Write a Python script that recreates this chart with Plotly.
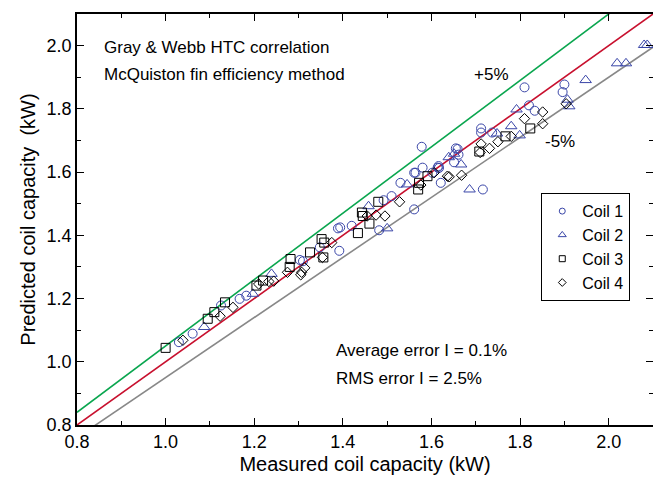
import plotly.graph_objects as go

# Coil data (measured, predicted) in kW
coil1_x = [1.030, 1.061, 1.125, 1.167, 1.182, 1.303, 1.310, 1.348, 1.389, 1.394, 1.420, 1.392, 1.482, 1.492,
           1.510, 1.530, 1.561, 1.561, 1.564, 1.578, 1.580, 1.602, 1.614, 1.616, 1.617, 1.621, 1.651, 1.655,
           1.659, 1.661, 1.712, 1.712, 1.716, 1.737, 1.810, 1.820, 1.833, 1.896, 1.900]
coil1_y = [1.062, 1.089, 1.178, 1.199, 1.209, 1.322, 1.318, 1.362, 1.422, 1.425, 1.430, 1.351, 1.416, 1.511,
           1.524, 1.566, 1.598, 1.482, 1.598, 1.680, 1.614, 1.598, 1.614, 1.619, 1.613, 1.566, 1.631, 1.675,
           1.673, 1.655, 1.738, 1.725, 1.545, 1.725, 1.868, 1.811, 1.794, 1.853, 1.877]

coil2_x = [1.087, 1.197, 1.239, 1.458, 1.500, 1.545, 1.639, 1.651, 1.667, 1.686, 1.748, 1.780, 1.792,
           1.799, 1.907, 1.911, 1.948, 2.019, 2.039, 2.080, 2.087]
coil2_y = [1.110, 1.215, 1.278, 1.492, 1.422, 1.561, 1.647, 1.658, 1.624, 1.545, 1.722, 1.745, 1.798,
           1.716, 1.829, 1.808, 1.891, 1.944, 1.944, 2.002, 2.002]

coil3_x = [1.000, 1.095, 1.110, 1.134, 1.205, 1.220, 1.280, 1.282, 1.326, 1.352, 1.356, 1.358, 1.434,
           1.443, 1.445, 1.460, 1.480, 1.570, 1.572, 1.591, 1.708, 1.767, 1.823]
coil3_y = [1.044, 1.136, 1.157, 1.188, 1.241, 1.257, 1.300, 1.325, 1.346, 1.388, 1.330, 1.377, 1.407,
           1.472, 1.461, 1.437, 1.506, 1.545, 1.566, 1.587, 1.665, 1.713, 1.738]

coil4_x = [1.039, 1.123, 1.152, 1.210, 1.233, 1.244, 1.275, 1.305, 1.307, 1.314, 1.354, 1.375, 1.455,
           1.475, 1.495, 1.528, 1.576, 1.606, 1.636, 1.640, 1.668, 1.710, 1.712, 1.731, 1.750, 1.780,
           1.810, 1.851, 1.851, 1.904]
coil4_y = [1.068, 1.144, 1.172, 1.246, 1.254, 1.255, 1.283, 1.275, 1.283, 1.297, 1.330, 1.377, 1.461,
           1.464, 1.461, 1.506, 1.559, 1.598, 1.587, 1.585, 1.590, 1.662, 1.689, 1.675, 1.696, 1.713,
           1.769, 1.790, 1.753, 1.816]

series_names = ["Coil 1", "Coil 2", "Coil 3", "Coil 4"]

line_x = [0.8, 2.1]
band_factors = [1.05, 1.0, 0.95]
band_colors = ["#0aa64f", "#c8102e", "#888888"]

tick_vals = [0.8, 1.0, 1.2, 1.4, 1.6, 1.8, 2.0]
tick_text = ["0.8", "1.0", "1.2", "1.4", "1.6", "1.8", "2.0"]

FONT = "Liberation Sans, Arial, sans-serif"
BLUE = "#3a46a8"

styles = [
    dict(symbol="circle-open", size=9, color=BLUE),
    dict(symbol="triangle-up-open", size=10, color=BLUE),
    dict(symbol="square-open", size=9, color="black"),
    dict(symbol="diamond-open", size=8, color="black"),
]
legend_sizes = [6, 7, 6, 6]

fig = go.Figure()

for f, c in zip(band_factors, band_colors):
    fig.add_trace(go.Scatter(x=line_x, y=[f * v for v in line_x], mode="lines",
                             line=dict(color=c, width=1.6), showlegend=False, hoverinfo="skip"))

for name, xs, ys, st in zip(series_names, [coil1_x, coil2_x, coil3_x, coil4_x],
                            [coil1_y, coil2_y, coil3_y, coil4_y], styles):
    fig.add_trace(go.Scatter(x=xs, y=ys, mode="markers", name=name, showlegend=False,
                             legendgroup=name, marker=dict(line=dict(width=1), **st)))

# legend entries with smaller symbols (legend-only, no data)
for name, st, ls in zip(series_names, styles, legend_sizes):
    s = dict(st)
    s["size"] = ls
    fig.add_trace(go.Scatter(x=[None], y=[None], mode="markers", name=name, legendgroup=name,
                             marker=dict(line=dict(width=1), **s)))

axis_common = dict(
    showline=True, linecolor="black", linewidth=1.5, mirror="ticks",
    ticks="inside", ticklen=7, tickwidth=1.2, tickcolor="black",
    tickvals=tick_vals, ticktext=tick_text,
    minor=dict(ticks="inside", ticklen=4, tickwidth=1, tickcolor="black", dtick=0.1),
    showgrid=False, zeroline=False,
    tickfont=dict(family=FONT, size=18, color="black"),
)

fig.update_xaxes(range=[0.8, 2.1], title=dict(text="Measured coil capacity (kW)",
                 font=dict(family=FONT, size=20, color="black"), standoff=6), **axis_common)
fig.update_yaxes(range=[0.8, 2.1], title=dict(text="Predicted coil capacity  (kW)",
                 font=dict(family=FONT, size=20, color="black"), standoff=6), **axis_common)

ann_font = dict(family=FONT, size=17, color="black")
fig.add_annotation(x=0.857, y=1.994, text="Gray &amp; Webb HTC correlation", showarrow=False,
                   xanchor="left", font=ann_font)
fig.add_annotation(x=0.857, y=1.909, text="McQuiston fin efficiency method", showarrow=False,
                   xanchor="left", font=ann_font)
fig.add_annotation(x=1.736, y=1.909, text="+5%", showarrow=False, font=ann_font)
fig.add_annotation(x=1.889, y=1.698, text="-5%", showarrow=False, font=ann_font)
fig.add_annotation(x=1.379, y=1.036, text="Average error I = 0.1%", showarrow=False, xanchor="left", font=ann_font)
fig.add_annotation(x=1.379, y=0.948, text="RMS error I = 2.5%", showarrow=False, xanchor="left", font=ann_font)

fig.update_layout(
    width=653, height=470,
    margin=dict(l=69, r=8, t=4, b=53),
    paper_bgcolor="white", plot_bgcolor="white",
    font=dict(family=FONT, color="black"),
    legend=dict(x=0.806, y=0.564, xanchor="left", yanchor="top",
                bordercolor="black", borderwidth=1, bgcolor="white",
                font=dict(family=FONT, size=16, color="black"),
                tracegroupgap=0, itemwidth=30),
)

fig.write_html("out.html")
